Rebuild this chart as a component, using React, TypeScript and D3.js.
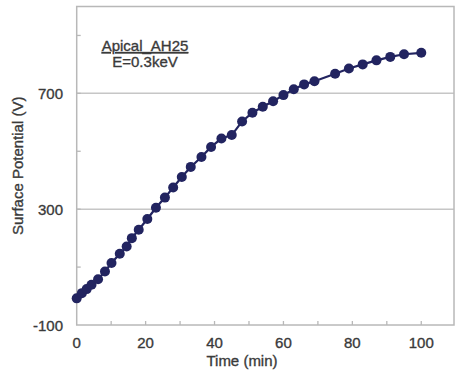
import React from "react";
import * as d3 from "d3";

const times = [0, 1.5, 2.9, 4.3, 6.2, 8.2, 10.1, 12.5, 14.5, 16, 18, 20.5, 23, 25.6, 28, 30.5, 33.1, 36.2, 39, 42, 45, 48, 51, 54, 57, 60, 63, 66, 69, 75, 79, 83, 87, 91, 95, 100];
const potentials = [-8, 10, 24, 39, 58, 85, 114, 146, 171, 200, 229, 266, 305, 340, 375, 411, 446, 480, 515, 544, 556, 603, 633, 654, 673, 694, 714, 731, 742, 768, 786, 800, 814, 826, 835, 840];
const xTickLabels = [0, 20, 40, 60, 80, 100];
const xMinorTicks = [10, 20, 30, 40, 50, 60, 70, 80, 90, 100];
const yTickLabels = [-100, 300, 700];
const yMinorTicks = [100, 300, 500, 700, 900];
const gridValues = [300, 700];

const W = 456, H = 372;
const left = 76.7, right = 454, top = 6.5, bottom = 325;

export default function App() {
  const x = d3.scaleLinear().domain([0, 109.5]).range([left, right]);
  const y = d3.scaleLinear().domain([-100, 1000]).range([bottom, top]);
  const pts = times.map((t, i) => [t, potentials[i]] as [number, number]);
  const line = d3.line<[number, number]>().x(d => x(d[0])).y(d => y(d[1]));
  const font = "Liberation Sans, Arial, sans-serif";
  const axisColor = "#b8b8b8";
  const textColor = "#3a3a3a";
  const dotColor = "#222460";
  const textStyle = { stroke: textColor, strokeWidth: 0.35 };
  return (
    <svg width={W} height={H} style={{ position: "absolute", left: 0, top: 0, background: "#fff" }}>
      <rect x={0} y={0} width={W} height={H} fill="#fff" />
      {gridValues.map(v => (
        <line key={"g" + v} x1={left} x2={right} y1={y(v)} y2={y(v)} stroke="#c6c6c6" strokeWidth={1.5} />
      ))}
      <rect x={left} y={top} width={right - left} height={bottom - top} fill="none" stroke={axisColor} strokeWidth={1.5} />
      {xMinorTicks.map(v => (
        <line key={"xt" + v} x1={x(v)} x2={x(v)} y1={bottom} y2={bottom - 4} stroke={axisColor} strokeWidth={1.3} />
      ))}
      {yMinorTicks.map(v => (
        <line key={"yt" + v} x1={left} x2={left + 4} y1={y(v)} y2={y(v)} stroke={axisColor} strokeWidth={1.3} />
      ))}
      {xTickLabels.map(v => (
        <text key={"xl" + v} x={x(v)} y={348} textAnchor="middle" fontFamily={font} fontSize={15} fill={textColor} style={textStyle}>{v}</text>
      ))}
      {yTickLabels.map(v => (
        <text key={"yl" + v} x={63} y={y(v) + 5.5} textAnchor="end" fontFamily={font} fontSize={15} fill={textColor} style={textStyle}>{v}</text>
      ))}
      <text x={242} y={366} textAnchor="middle" fontFamily={font} fontSize={15} fill={textColor} style={textStyle}>Time (min)</text>
      <text transform={`translate(23,${(top + bottom) / 2}) rotate(-90)`} textAnchor="middle" fontFamily={font} fontSize={15} fill={textColor} style={textStyle}>Surface Potential (V)</text>
      <text x={145} y={51} textAnchor="middle" fontFamily={font} fontSize={15} fill={textColor} textDecoration="underline" style={textStyle}>Apical_AH25</text>
      <text x={145} y={67} textAnchor="middle" fontFamily={font} fontSize={15} fill={textColor} style={textStyle}>E=0.3keV</text>
      <path d={line(pts) || ""} fill="none" stroke={dotColor} strokeWidth={2.2} />
      {pts.map((p, i) => (
        <circle key={"c" + i} cx={x(p[0])} cy={y(p[1])} r={5} fill={dotColor} />
      ))}
    </svg>
  );
}
